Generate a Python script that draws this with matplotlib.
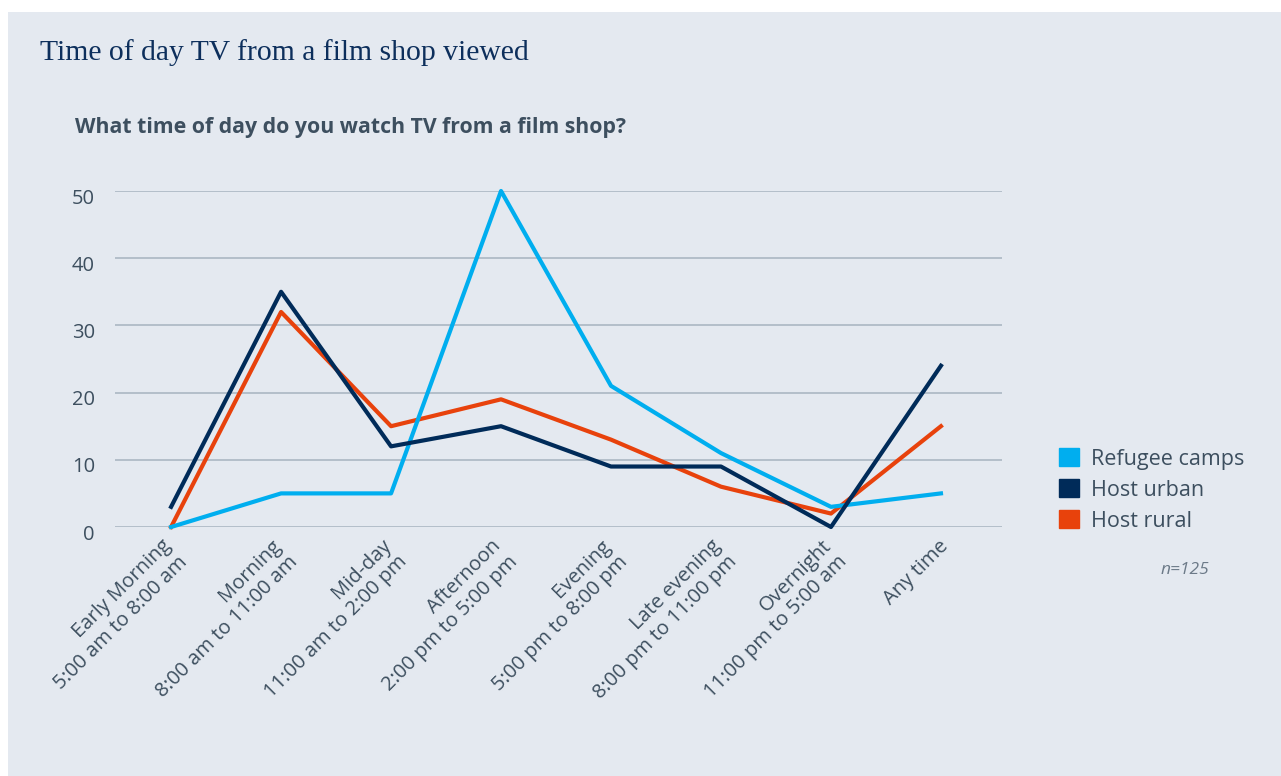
"""
    Time of day TV from a film shop viewed - line chart
"""
import matplotlib.pyplot as plt
import matplotlib.transforms as mtrans
from matplotlib.patches import Patch, Rectangle

#==============================================================================
#                  Data
#==============================================================================
categories = ['Early Morning\n5:00 am to 8:00 am',
              'Morning\n8:00 am to 11:00 am',
              'Mid-day\n11:00 am to 2:00 pm',
              'Afternoon\n2:00 pm to 5:00 pm',
              'Evening\n5:00 pm to 8:00 pm',
              'Late evening\n8:00 pm to 11:00 pm',
              'Overnight\n11:00 pm to 5:00 am',
              'Any time']
refugee_camps = [0, 5, 5, 50, 21, 11, 3, 5]
host_urban = [3, 35, 12, 15, 9, 9, 0, 24]
host_rural = [0, 32, 15, 19, 13, 6, 2, 15]
yticks = [0, 10, 20, 30, 40, 50]

col_ref = '#00aeef'
col_urb = '#002b59'
col_rur = '#e8420c'
bg = '#e4e9f0'
txt = '#3d4f5f'

plt.rcParams['font.family'] = ['Open Sans', 'DejaVu Sans']

#==============================================================================
W, H = 1281, 776
fig = plt.figure(figsize=(W / 100, H / 100), dpi=100, facecolor='white')
fig.patches.append(Rectangle((8 / W, 0), 1, 1 - 12 / H, transform=fig.transFigure,
                             facecolor=bg, edgecolor='none', zorder=-10))

ax = fig.add_axes([115 / W, 1 - 527 / H, (1002 - 115) / W, (527 - 191) / H])
ax.set_facecolor('none')

x = list(range(len(categories)))
ax.plot(x, refugee_camps, color=col_ref, lw=3, clip_on=False, zorder=3)
ax.plot(x, host_urban, color=col_urb, lw=3, clip_on=False, zorder=4)
ax.plot(x, host_rural, color=col_rur, lw=3, clip_on=False, zorder=2)

ax.set_xlim(-0.51, 7.555)
ax.set_ylim(0, 50)
ax.set_yticks(yticks)
ax.yaxis.grid(True, color='#b3bec9', lw=1.4)
ax.set_axisbelow(True)
for s in ax.spines.values():
    s.set_visible(False)
ax.tick_params(axis='both', length=0, labelsize=14.5, labelcolor=txt)
ax.tick_params(axis='y', pad=14.4)
yoff = mtrans.ScaledTranslation(0, -0.05, fig.dpi_scale_trans)
for lab in ax.get_yticklabels():
    lab.set_transform(lab.get_transform() + yoff)

ax.set_xticks(x)
ax.set_xticklabels(categories, rotation=45, ha='right', va='top',
                   rotation_mode='anchor', fontsize=14.5, color=txt)
for lab in ax.get_xticklabels():
    dx = -0.10 if '\n' in lab.get_text() else -0.03
    off = mtrans.ScaledTranslation(dx, -0.04, fig.dpi_scale_trans)
    lab.set_transform(lab.get_transform() + off)

# titles
fig.text(40 / W, 1 - 53 / H, 'Time of day TV from a film shop viewed',
         family='Liberation Serif', fontsize=21.3, color='#0d2f5c', va='center')
fig.text(75 / W, 1 - 128 / H, 'What time of day do you watch TV from a film shop?',
         fontsize=15.3, fontweight='bold', color=txt, va='center')

# legend
handles = [Patch(color=col_ref, label='Refugee camps'),
           Patch(color=col_urb, label='Host urban'),
           Patch(color=col_rur, label='Host rural')]
fig.legend(handles=handles, loc='upper left', bbox_to_anchor=(1040 / W, 1 - 429 / H),
           frameon=False, fontsize=15.5, labelcolor=txt, handlelength=0.9,
           handleheight=0.9, handletextpad=0.55, labelspacing=0.45)

fig.text(1185 / W, 1 - 570 / H, 'n=125', fontsize=12.5, style='italic',
         color='#6c7a88', ha='center', va='center')

fig.savefig('out.png', dpi=100, facecolor='white')
